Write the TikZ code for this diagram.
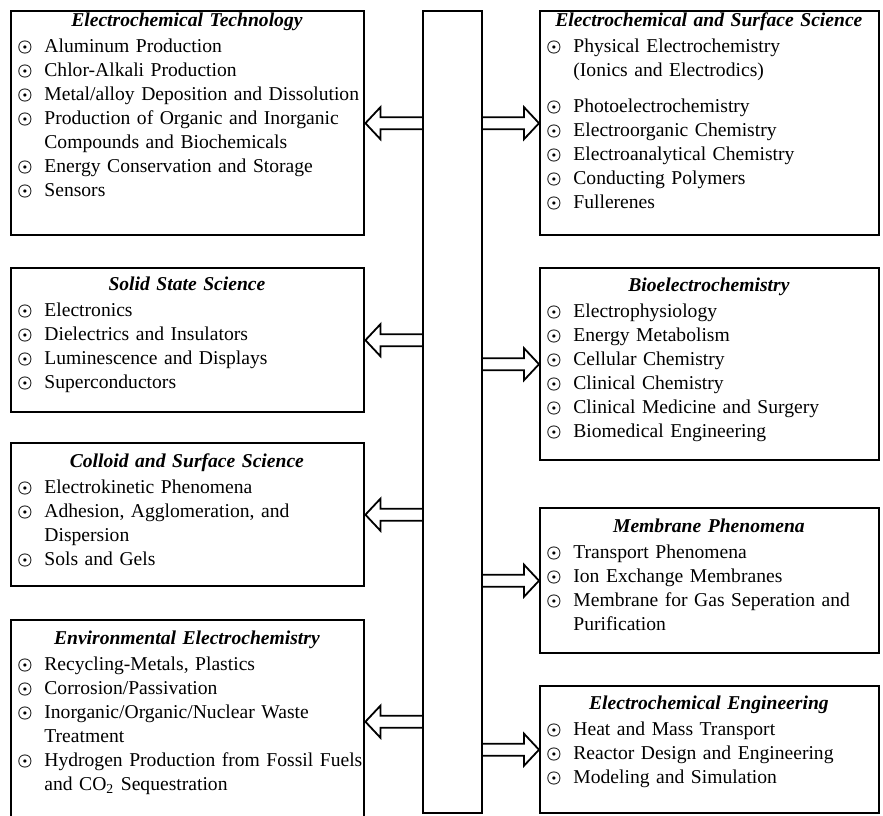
\documentclass[tikz,border=0pt]{standalone}
\usepackage{fontspec}
\setmainfont{Liberation Serif}
\usetikzlibrary{calc}
\hyphenpenalty=10000

\newcommand{\entry}{\par\hangindent=13.5pt\hangafter=1\noindent\makebox[13.5pt][l]{\raisebox{.4pt}{\fontsize{7.6}{8}\selectfont\boldmath$\odot$}}}
\newcommand{\heading}[2]{\noindent\makebox[#1][c]{\bfseries\itshape #2}\par\vspace{1pt}}

\begin{document}
\begin{tikzpicture}[x=0.5pt, y=-0.5pt,
	panel/.style = {draw, line width=1.2pt, anchor=north west, inner sep=0pt},
	listing/.style = {anchor=north west, inner sep=0pt, align=left, text width=180pt, font=\fontsize{9.8}{12}\selectfont},
	hollow/.style = {line width=.9pt, to path={let \p1=(\tikztostart), \p2=(\tikztotarget), \n1={sign(\x2-\x1)*7.5pt} in
		(\x1,\y1+3pt) -- (\x2-\n1,\y1+3pt) -- (\x2-\n1,\y1+8pt) -- (\x2,\y1) -- (\x2-\n1,\y1-8pt) -- (\x2-\n1,\y1-3pt) -- (\x1,\y1-3pt)}}]
	\useasboundingbox (0,0) rectangle (883,815);
	
	% centre bar
	\node[panel, line width=1pt, minimum width=29.5pt, minimum height=401pt] (bar) at (422,10) {};
	
	% left column
	\node[panel, minimum width=176.5pt, minimum height=112pt] (tech) at (10,10) {};
	\node[listing] (techlist) at (17,12) {\heading{169.5pt}{Electrochemical Technology}
		\entry Aluminum Production
		\entry Chlor-Alkali Production
		\entry Metal/alloy Deposition and Dissolution
		\entry Production of Organic and Inorganic\newline Compounds and Biochemicals
		\entry Energy Conservation and Storage
		\entry Sensors\par};
	
	\node[panel, minimum width=176.5pt, minimum height=72pt] (solid) at (10,267) {};
	\node[listing] (solidlist) at (17,276) {\heading{169.5pt}{Solid State Science}
		\entry Electronics
		\entry Dielectrics and Insulators
		\entry Luminescence and Displays
		\entry Superconductors\par};
	
	\node[panel, minimum width=176.5pt, minimum height=71.5pt] (colloid) at (10,442) {};
	\node[listing] (colloidlist) at (17,453) {\heading{169.5pt}{Colloid and Surface Science}
		\entry Electrokinetic Phenomena
		\entry Adhesion, Agglomeration, and\newline Dispersion
		\entry Sols and Gels\par};
	
	\node[panel, minimum width=176.5pt, minimum height=101.5pt] (enviro) at (10,619) {};
	\node[listing] (envirolist) at (17,630) {\heading{169.5pt}{Environmental Electrochemistry}
		\entry Recycling-Metals, Plastics
		\entry Corrosion/Passivation
		\entry Inorganic/Organic/Nuclear Waste\newline Treatment
		\entry Hydrogen Production from Fossil Fuels\newline and CO\textsubscript{2} Sequestration\par};
	
	% right column
	\node[panel, minimum width=169.5pt, minimum height=112pt] (surface) at (539,10) {};
	\node[listing] (surfacelist) at (546,12) {\heading{162.5pt}{Electrochemical and Surface Science}
		\entry Physical Electrochemistry\newline (Ionics and Electrodics)\par\vspace{6pt}
		\entry Photoelectrochemistry
		\entry Electroorganic Chemistry
		\entry Electroanalytical Chemistry
		\entry Conducting Polymers
		\entry Fullerenes\par};
	
	\node[panel, minimum width=169.5pt, minimum height=96pt] (bio) at (539,267) {};
	\node[listing] (biolist) at (546,277) {\heading{162.5pt}{Bioelectrochemistry}
		\entry Electrophysiology
		\entry Energy Metabolism
		\entry Cellular Chemistry
		\entry Clinical Chemistry
		\entry Clinical Medicine and Surgery
		\entry Biomedical Engineering\par};
	
	\node[panel, minimum width=169.5pt, minimum height=72.5pt] (membrane) at (539,507) {};
	\node[listing] (membranelist) at (546,518) {\heading{162.5pt}{Membrane Phenomena}
		\entry Transport Phenomena
		\entry Ion Exchange Membranes
		\entry Membrane for Gas Seperation and\newline Purification\par};
	
	\node[panel, minimum width=169.5pt, minimum height=63.5pt] (engineering) at (539,685) {};
	\node[listing] (engineeringlist) at (546,695) {\heading{162.5pt}{Electrochemical Engineering}
		\entry Heat and Mass Transport
		\entry Reactor Design and Engineering
		\entry Modeling and Simulation\par};
	
	% arrows
	\draw[hollow] (bar.west |- tech.east) to (tech.east);
	\draw[hollow] (bar.west |- solid.east) to (solid.east);
	\draw[hollow] (bar.west |- colloid.east) to (colloid.east);
	\draw[hollow] (bar.west |- enviro.east) to (enviro.east);
	\draw[hollow] (bar.east |- surface.west) to (surface.west);
	\draw[hollow] (bar.east |- bio.west) to (bio.west);
	\draw[hollow] (bar.east |- membrane.west) to (membrane.west);
	\draw[hollow] (bar.east |- engineering.west) to (engineering.west);
\end{tikzpicture}
\end{document}
